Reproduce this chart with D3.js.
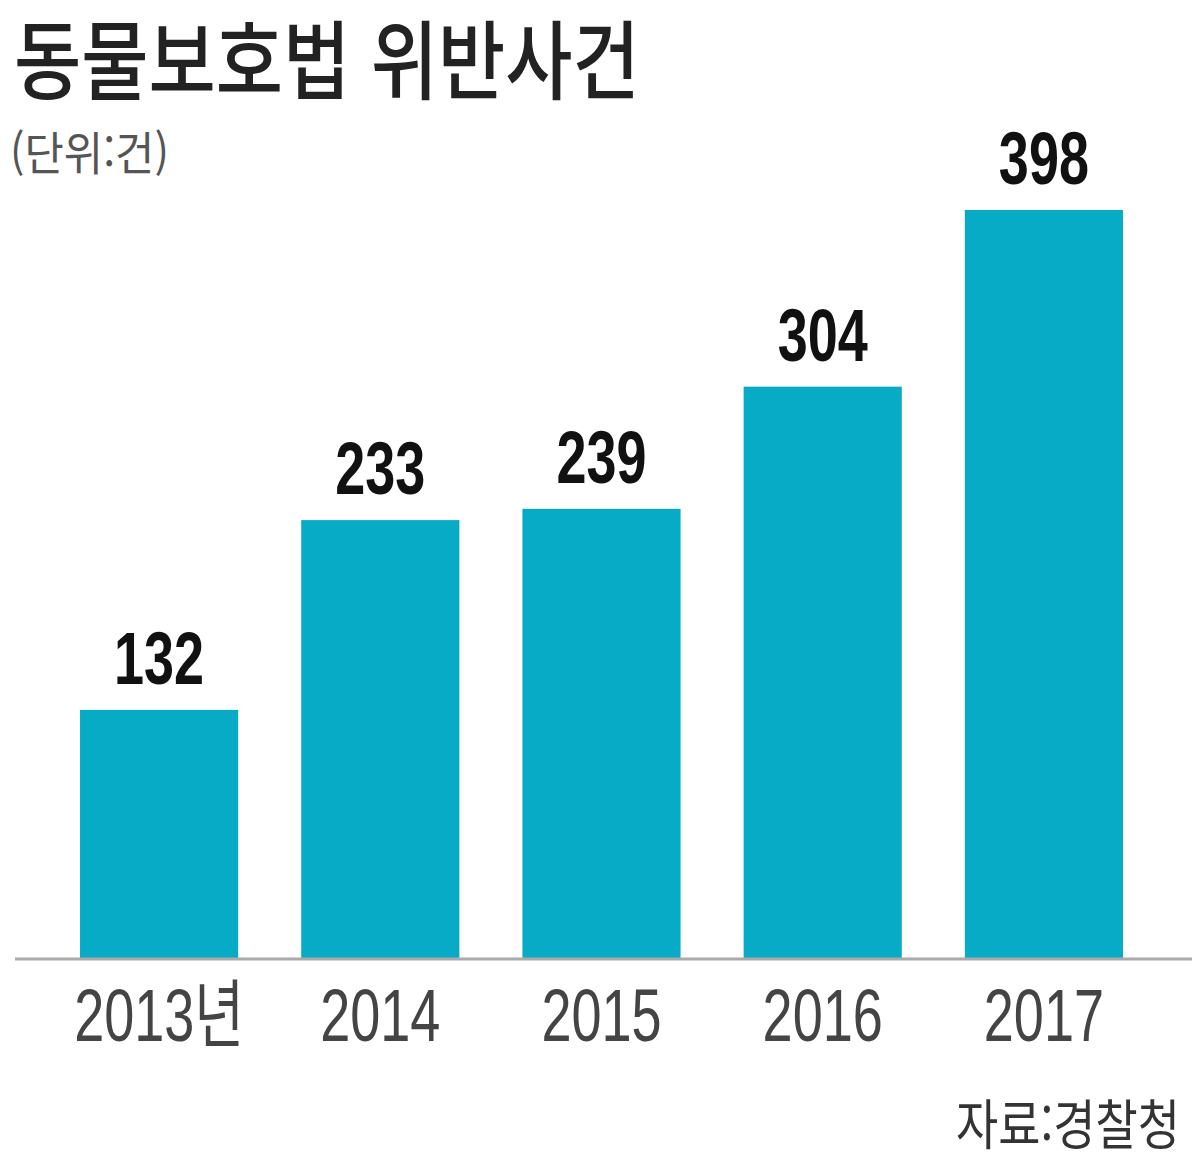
<!DOCTYPE html>
<html lang="ko">
<head>
<meta charset="UTF-8">
<title>동물보호법 위반사건</title>
<style>
  body { margin: 0; background: #fff; }
  svg { display: block; }
</style>
</head>
<body>
<svg></svg>
<script src="https://d3js.org/d3.v7.min.js"></script>
<script>
// 동물보호법 위반사건 (단위: 건), 자료: 경찰청
const years = ['2013', '2014', '2015', '2016', '2017'];
const yearLabels = ['2013년', '2014', '2015', '2016', '2017'];
const cases = [132, 233, 239, 304, 398];

const W = 1200, H = 1176;
const baseY = 958;
const barColor = '#08abc6';

const svg = d3.select('svg').attr('width', W).attr('height', H);

const x = d3.scaleBand()
  .domain(years)
  .range([48.5, 1154.5])
  .paddingInner(0.285)
  .paddingOuter(0.1425);

const y = d3.scaleLinear()
  .domain([0, d3.max(cases)])
  .range([baseY, 210]);

// squeeze text horizontally to mimic the condensed newspaper font
function condense(sel, k) {
  sel.each(function () {
    const w = this.getComputedTextLength();
    d3.select(this).attr('textLength', w * k).attr('lengthAdjust', 'spacingAndGlyphs');
  });
}

// title
svg.append('text')
  .attr('x', 14).attr('y', 93)
  .attr('font-family', '"Noto Sans CJK KR", sans-serif')
  .attr('font-weight', 500)
  .attr('font-size', 86)
  .attr('fill', '#222')
  .text('동물보호법 위반사건')
  .call(condense, 0.85);

svg.append('text')
  .attr('x', 10).attr('y', 170)
  .attr('font-family', '"Noto Sans CJK KR", sans-serif')
  .attr('font-size', 46)
  .attr('fill', '#555')
  .text('(단위:건)')
  .call(condense, 0.93);

const data = years.map((yr, i) => ({ year: yr, value: cases[i] }));

// bars
svg.selectAll('.bar')
  .data(data)
  .enter()
  .append('rect')
  .attr('class', 'bar')
  .attr('x', d => x(d.year))
  .attr('y', d => y(d.value))
  .attr('width', x.bandwidth())
  .attr('height', d => y(0) - y(d.value))
  .attr('fill', barColor);

// value labels
svg.selectAll('.val')
  .data(data)
  .enter()
  .append('text')
  .attr('class', 'val')
  .attr('x', d => x(d.year) + x.bandwidth() / 2)
  .attr('y', d => y(d.value) - 26)
  .attr('text-anchor', 'middle')
  .attr('font-family', '"Liberation Sans", Arial, sans-serif')
  .attr('font-weight', 'bold')
  .attr('font-size', 75)
  .attr('fill', '#111')
  .text(d => d.value)
  .call(condense, 0.72);

// baseline
svg.append('line')
  .attr('x1', 15).attr('x2', 1192)
  .attr('y1', baseY + 1).attr('y2', baseY + 1)
  .attr('stroke', '#aaa')
  .attr('stroke-width', 3);

// year axis
const axis = svg.append('g')
  .attr('transform', `translate(0,${baseY})`)
  .call(d3.axisBottom(x).tickSize(0).tickPadding(30)
    .tickFormat((d, i) => yearLabels[i]));
axis.select('.domain').remove();
axis.selectAll('text')
  .attr('font-family', '"Liberation Sans", "Noto Sans CJK KR", sans-serif')
  .attr('font-size', 74)
  .attr('fill', '#444')
  .call(condense, 0.73);

// source
svg.append('text')
  .attr('x', 1180).attr('y', 1145)
  .attr('text-anchor', 'end')
  .attr('font-family', '"Noto Sans CJK KR", sans-serif')
  .attr('font-size', 54)
  .attr('fill', '#333')
  .text('자료:경찰청')
  .call(condense, 0.85);
</script>
</body>
</html>
